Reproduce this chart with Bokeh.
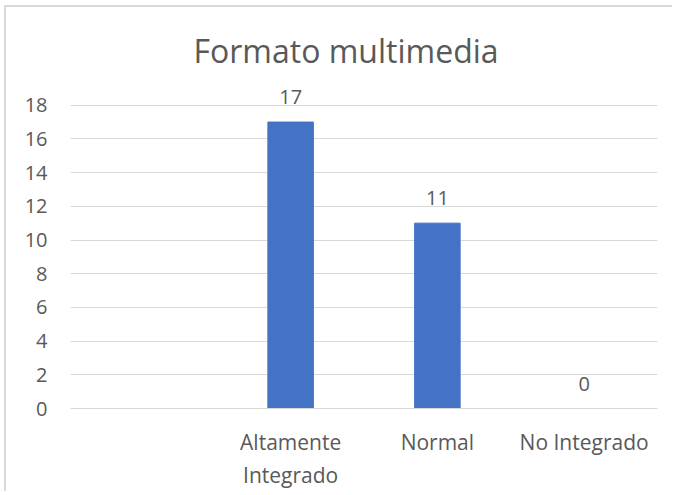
from bokeh.plotting import figure
from bokeh.models import ColumnDataSource, FactorRange, Range1d, FixedTicker
from bokeh.embed import file_html
from bokeh.resources import INLINE
from bokeh.core.properties import value

# ---- data ----
categories = ["", "Altamente\nIntegrado", "Normal", "No Integrado"]
values = [None, 17, 11, 0]
y_ticks = [0, 2, 4, 6, 8, 10, 12, 14, 16, 18]
title_text = "Formato multimedia"

FONT = "Open Sans"
TXT = "#595959"
GRID = "#D9D9D9"
BAR = "#4472C4"

bx = [c for c, v in zip(categories, values) if v is not None]
bv = [v for v in values if v is not None]
src = ColumnDataSource(dict(x=bx, top=bv, lab=[str(v) for v in bv]))

p = figure(
    width=668, height=486,
    x_range=FactorRange(factors=categories, range_padding=0),
    y_range=Range1d(0, 20),
    output_backend="svg", toolbar_location=None,
    min_border_left=64, min_border_right=17,
    min_border_top=64, min_border_bottom=85,
)
p.styles = {"border-left": "2px solid #D9D9D9", "border-top": "2px solid #D9D9D9",
            "margin-left": "4px", "margin-top": "5px"}

p.vbar(x="x", top="top", width=0.31, color=BAR, source=src)
p.text(x="x", y="top", text="lab", source=src, text_align="center",
       text_baseline="alphabetic", y_offset=-25,
       text_font=value(FONT), text_font_size="20px", text_color=TXT)

p.title.text = title_text
p.title.text_font = FONT
p.title.text_font_size = "32px"
p.title.text_font_style = "normal"
p.title.text_color = TXT
p.title.align = "left"
p.title.offset = 123
p.title.standoff = 0

p.outline_line_color = None
p.xgrid.grid_line_color = None
p.ygrid.grid_line_color = GRID
p.ygrid.grid_line_width = 1

p.yaxis.ticker = FixedTicker(ticks=y_ticks)
p.yaxis.axis_line_color = None
p.yaxis.major_tick_line_color = None
p.yaxis.minor_tick_line_color = None
p.yaxis.major_label_standoff = 17
p.yaxis.major_label_text_font = FONT
p.yaxis.major_label_text_font_size = "20px"
p.yaxis.major_label_text_color = TXT

p.xaxis.axis_line_color = GRID
p.xaxis.axis_line_width = 1
p.xaxis.major_tick_line_color = None
p.xaxis.minor_tick_line_color = None
p.xaxis.major_label_standoff = 13
p.xaxis.major_label_text_font = FONT
p.xaxis.major_label_text_font_size = "21px"
p.xaxis.major_label_text_color = TXT

open("out.html", "w").write(file_html(p, INLINE))
